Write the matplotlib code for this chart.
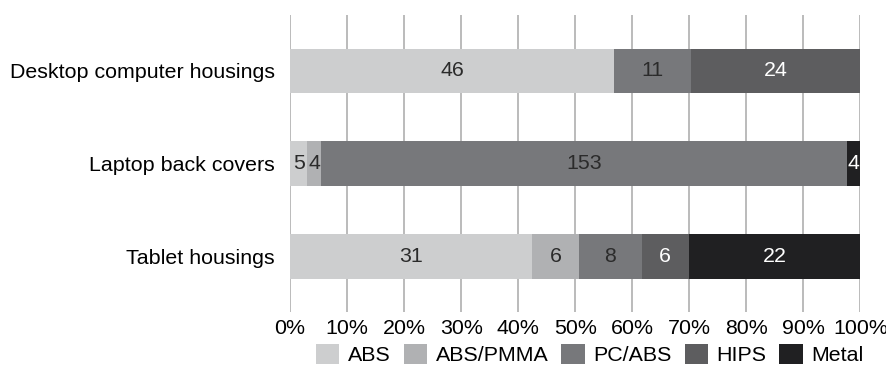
import numpy as np
import matplotlib.pyplot as plt

plt.rcParams["font.family"] = ["Liberation Sans", "DejaVu Sans"]

# devices, top to bottom
devices = ["Desktop computer housings", "Laptop back covers", "Tablet housings"]
materials = ["ABS", "ABS/PMMA", "PC/ABS", "HIPS", "Metal"]

# counts per material (0 = not present)
abs_counts = [46, 5, 31]
abs_pmma_counts = [0, 4, 6]
pc_abs_counts = [11, 153, 8]
hips_counts = [24, 0, 6]
metal_counts = [0, 4, 22]

colors = ["#cdcecf", "#b0b1b3", "#77787b", "#5d5d5f", "#202022"]
text_colors = ["#2b2b2b", "#2b2b2b", "#2b2b2b", "white", "white"]

counts = np.array([abs_counts, abs_pmma_counts, pc_abs_counts,
                   hips_counts, metal_counts], dtype=float)
totals = counts.sum(axis=0)
shares = counts / totals * 100

fig = plt.figure(figsize=(8.87, 3.77), dpi=100)
ax = fig.add_axes([0.327, 0.172, 0.643, 0.788])

fs = 15.4
y = np.arange(len(devices))
left = np.zeros(len(devices))
for i, mat in enumerate(materials):
    ax.barh(y, shares[i], left=left, height=0.48, color=colors[i],
            label=mat, zorder=2)
    for j in range(len(devices)):
        if counts[i, j] > 0:
            ax.text(left[j] + shares[i, j] / 2, y[j], f"{int(counts[i, j])}",
                    ha="center", va="center", fontsize=fs,
                    color=text_colors[i], zorder=3)
    left += shares[i]

ax.set_xlim(0, 100)
ax.set_ylim(2.6, -0.6)
ax.set_xticks(np.arange(0, 101, 10))
ax.set_xticklabels([f"{v}%" for v in range(0, 101, 10)], fontsize=fs)
ax.set_yticks(y)
ax.set_yticklabels(devices, fontsize=fs)
ax.tick_params(length=0, pad=5)
ax.tick_params(axis="y", pad=11)
ax.grid(axis="x", color="#b5b5b5", lw=1.3, zorder=0)
for s in ax.spines.values():
    s.set_visible(False)

fig.legend(loc="lower center", bbox_to_anchor=(0.665, -0.02), ncol=5,
           frameon=False, fontsize=fs, handlelength=1.1, handleheight=1.1,
           handletextpad=0.4, columnspacing=0.6)

fig.savefig("out.png", dpi=100)
